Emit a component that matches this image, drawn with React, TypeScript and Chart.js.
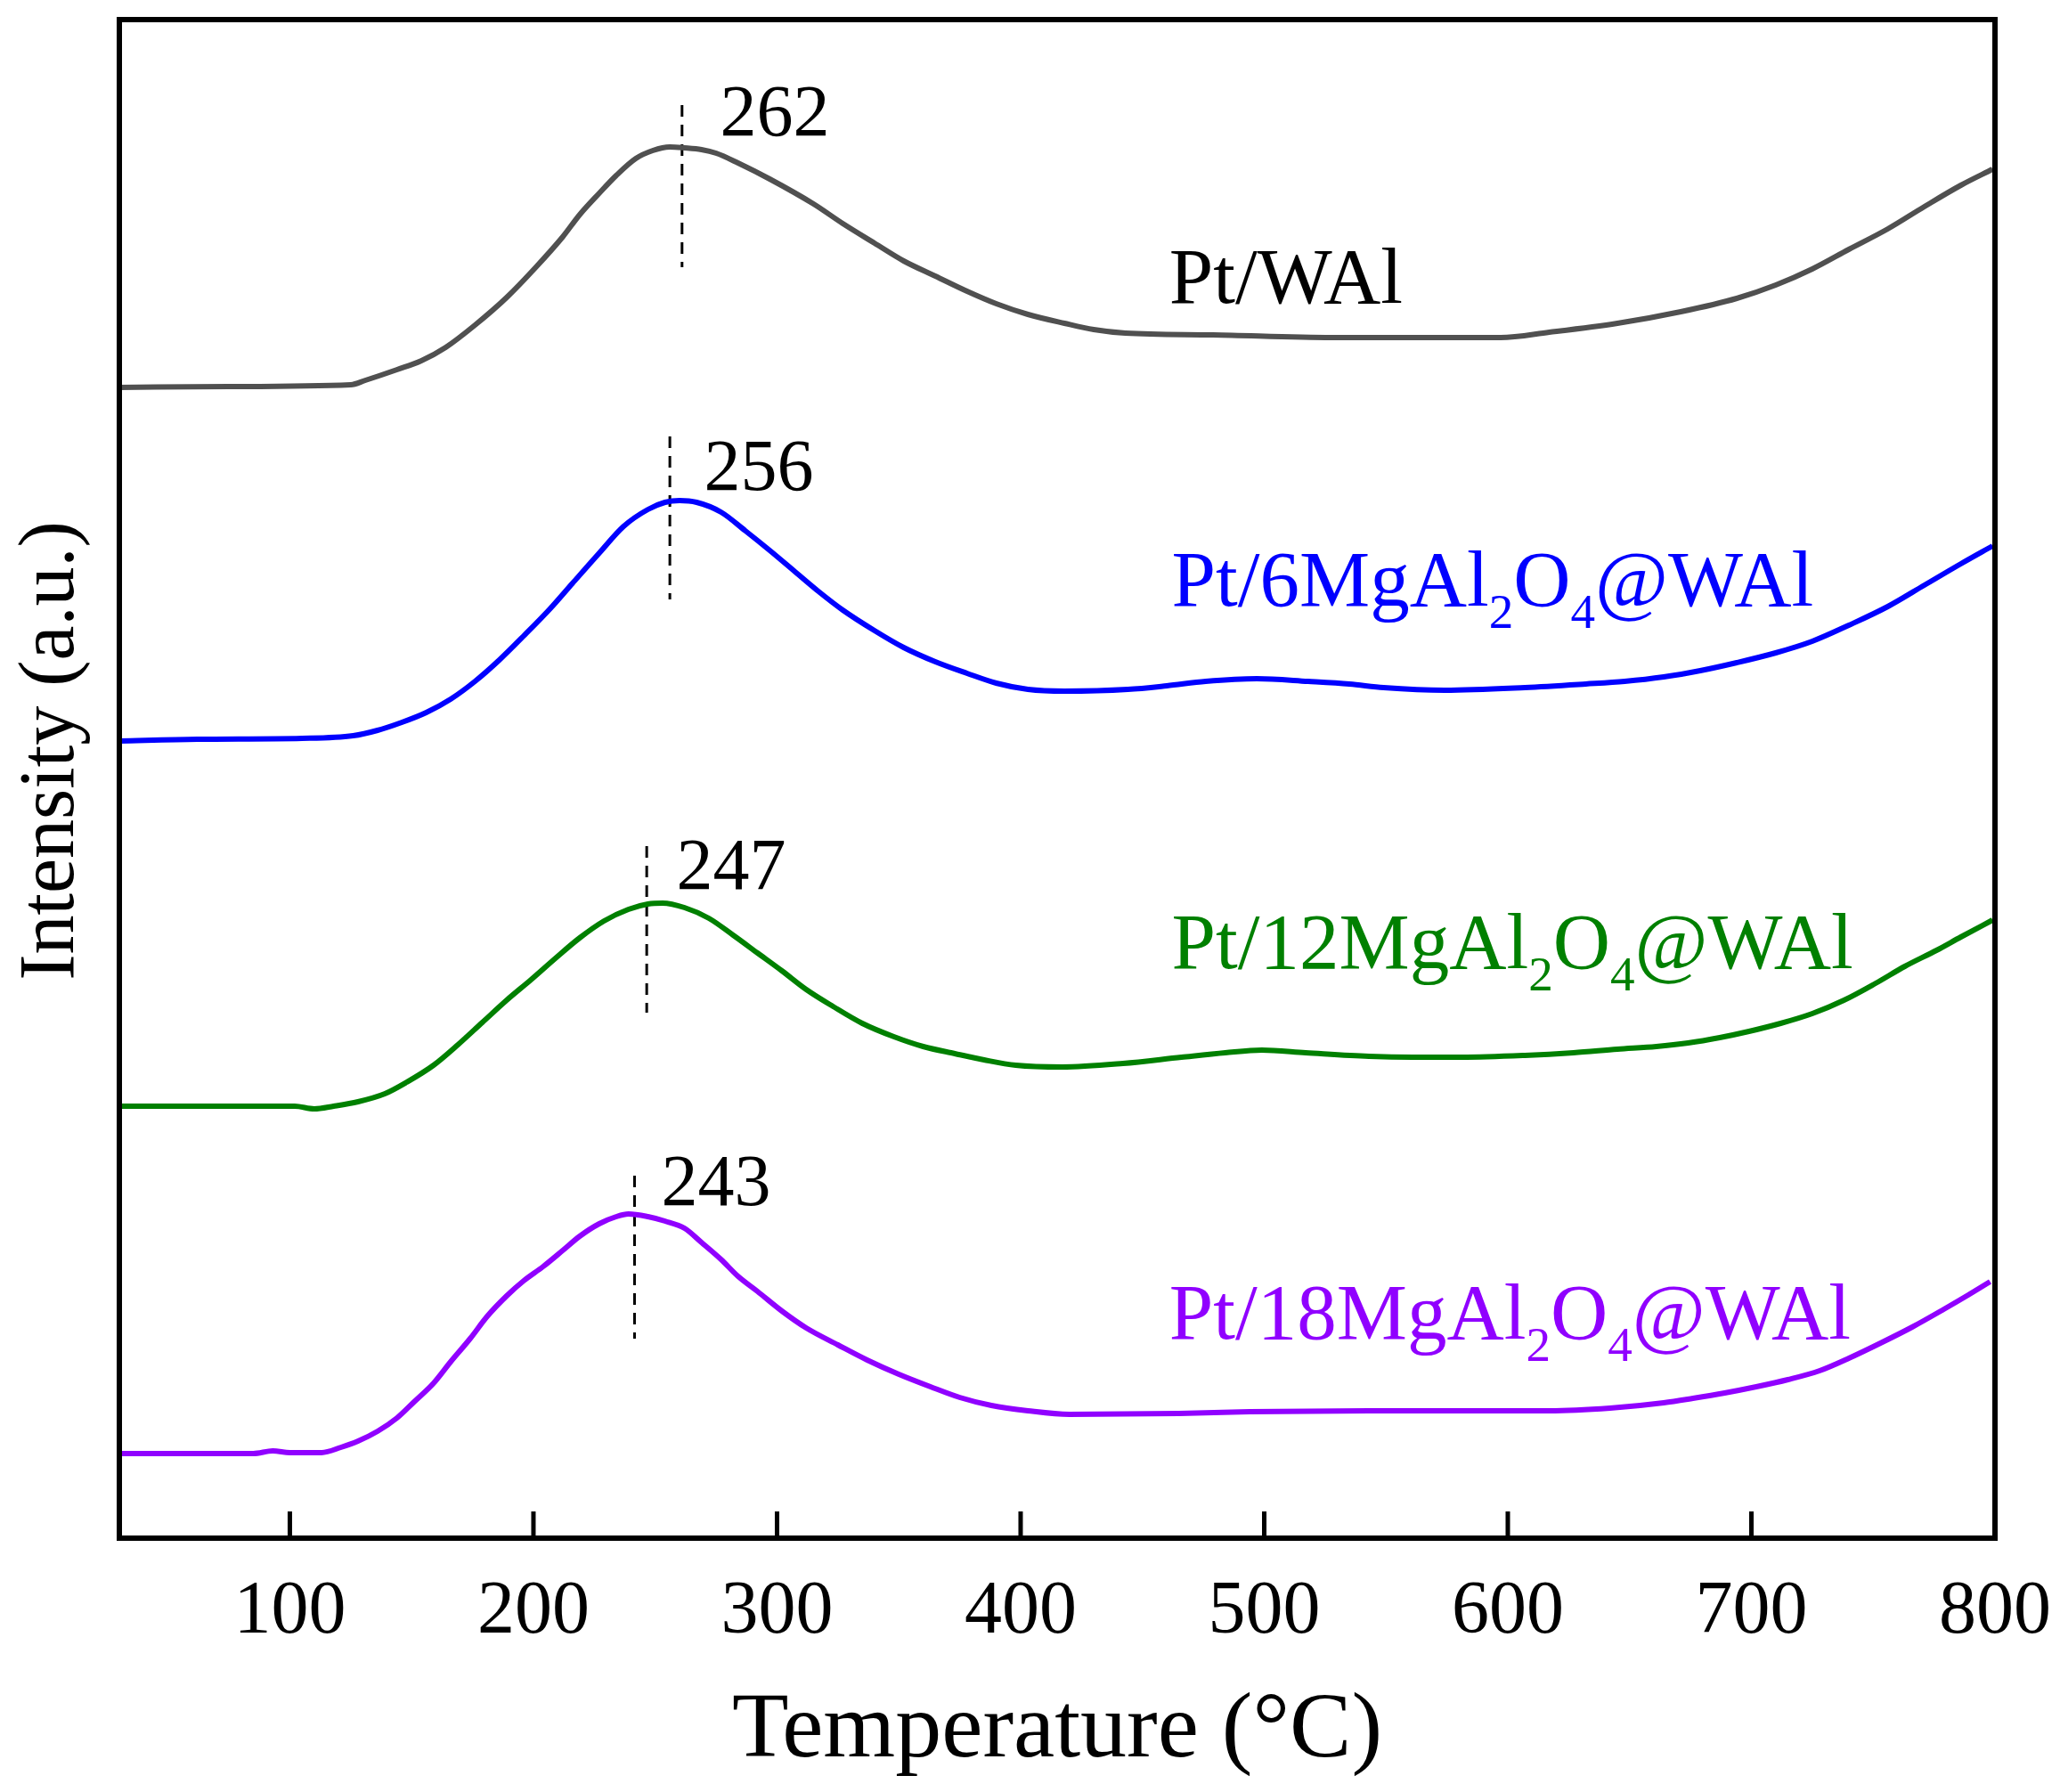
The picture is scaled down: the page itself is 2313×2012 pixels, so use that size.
import React, { useRef, useEffect } from "react";
import { Chart, registerables, Plugin } from "chart.js";

Chart.register(...registerables);

const FONT = "'Liberation Serif', 'Times New Roman', serif";

// x axis (temperature, °C)
const tickValues = [100, 200, 300, 400, 500, 600, 700, 800];

// Pt/WAl
const walT = [30, 75, 125, 131, 144, 154, 164, 176, 189, 201, 212, 219, 227, 234, 242, 249, 256, 262, 269, 275, 284, 297, 315, 327, 340, 352, 365, 378, 390, 403, 418, 430, 443, 479, 528, 597, 617, 645, 671, 694, 710, 725, 740, 756, 771, 786, 799];
const walI = [1290, 1291, 1293, 1298, 1310, 1320, 1335, 1360, 1391, 1425, 1459, 1484, 1508, 1528, 1547, 1556, 1560, 1559, 1557, 1553, 1542, 1524, 1496, 1474, 1452, 1432, 1415, 1398, 1384, 1372, 1362, 1355, 1351, 1349, 1346, 1346, 1352, 1362, 1375, 1390, 1405, 1423, 1445, 1468, 1493, 1517, 1535];

// Pt/6MgAl2O4@WAl
const mg6T = [30, 62, 105, 126, 136, 146, 156, 166, 176, 186, 196, 207, 216, 227, 237, 247, 254, 260, 267, 277, 287, 297, 307, 317, 327, 340, 352, 365, 378, 390, 403, 418, 444, 460, 476, 497, 518, 535, 549, 574, 607, 632, 648, 664, 679, 694, 710, 725, 740, 756, 771, 786, 799];
const mg6I = [893, 895, 896, 899, 905, 914, 925, 940, 960, 984, 1011, 1042, 1070, 1104, 1134, 1153, 1161, 1163, 1161, 1150, 1129, 1107, 1084, 1061, 1040, 1017, 998, 982, 969, 958, 951, 949, 951, 955, 960, 963, 960, 957, 953, 950, 953, 957, 960, 965, 972, 981, 992, 1005, 1023, 1044, 1068, 1092, 1112];

// Pt/12MgAl2O4@WAl
const mg12T = [30, 102, 110, 118, 128, 139, 148, 159, 169, 179, 189, 199, 209, 219, 229, 239, 247, 253, 262, 272, 282, 292, 302, 312, 323, 335, 348, 360, 373, 385, 398, 417, 442, 466, 484, 499, 517, 543, 561, 581, 607, 627, 645, 661, 674, 687, 699, 712, 725, 738, 751, 763, 776, 786, 799];
const mg12I = [483, 483, 480, 483, 488, 497, 510, 529, 552, 577, 602, 625, 649, 672, 691, 704, 710, 711, 706, 694, 675, 655, 635, 614, 595, 576, 561, 550, 542, 535, 529, 527, 531, 538, 543, 546, 543, 539, 538, 538, 540, 543, 547, 550, 554, 560, 567, 576, 587, 602, 621, 640, 658, 673, 692];

// Pt/18MgAl2O4@WAl
const mg18T = [30, 85, 93, 100, 113, 121, 128, 136, 144, 151, 159, 166, 174, 181, 189, 196, 204, 212, 219, 227, 234, 239, 247, 254, 262, 269, 277, 284, 292, 302, 312, 325, 337, 350, 363, 375, 388, 403, 420, 465, 494, 543, 617, 642, 664, 676, 689, 702, 715, 728, 740, 753, 766, 779, 789, 798];
const mg18I = [93, 93, 96, 94, 94, 100, 107, 118, 133, 151, 172, 196, 222, 247, 270, 287, 303, 321, 337, 351, 359, 362, 359, 354, 346, 330, 311, 292, 275, 253, 234, 215, 198, 182, 168, 156, 147, 141, 137, 138, 140, 141, 141, 144, 150, 155, 161, 168, 176, 186, 200, 217, 235, 255, 271, 286];

// peak markers
const peakDashT = [261, 256, 246.5, 241.5];
const peakDashTop = [1607, 1235, 775, 405];
const peakDashBottom = [1425, 1052, 588, 222];
const peakLabels = ["262", "256", "247", "243"];

const curveColors = ["#505050", "#0000ff", "#008000", "#9000ff"];
const labelColors = ["#000000", "#0000ff", "#008000", "#9000ff"];

// text parts: [text, isSubscript]
const seriesNames: [string, boolean][][] = [
  [["Pt/WAl", false]],
  [["Pt/6MgAl", false], ["2", true], ["O", false], ["4", true], ["@WAl", false]],
  [["Pt/12MgAl", false], ["2", true], ["O", false], ["4", true], ["@WAl", false]],
  [["Pt/18MgAl", false], ["2", true], ["O", false], ["4", true], ["@WAl", false]],
];

// where the texts sit, in data units (left edge, baseline)
const nameAnchors = [
  { x: 461, y: 1385 },
  { x: 462, y: 1045 },
  { x: 462, y: 638 },
  { x: 461, y: 222 },
];
const peakAnchors = [
  { x: 276.6, y: 1573 },
  { x: 270, y: 1175 },
  { x: 258.7, y: 727 },
  { x: 252.5, y: 372 },
];

const zip = (xs: number[], ys: number[]) => xs.map((x, i) => ({ x, y: ys[i] }));

const drawParts = (ctx: CanvasRenderingContext2D, parts: [string, boolean][], x: number, y: number, size: number) => {
  let cx = x;
  parts.forEach(([text, sub]) => {
    const s = sub ? size * 0.62 : size;
    ctx.font = `${s}px ${FONT}`;
    ctx.fillText(text, cx, sub ? y + 25 : y);
    cx += ctx.measureText(text).width;
  });
};

const decorPlugin: Plugin<"line"> = {
  id: "decor",
  beforeDraw(chart) {
    const { ctx, width, height } = chart;
    ctx.save();
    ctx.fillStyle = "#ffffff";
    ctx.fillRect(0, 0, width, height);
    ctx.restore();
  },
  afterDraw(chart) {
    const { ctx, chartArea } = chart;
    const xs = chart.scales.x;
    const ys = chart.scales.y;
    ctx.save();

    // inward ticks on the bottom axis
    ctx.strokeStyle = "#000000";
    ctx.lineWidth = 5;
    ctx.setLineDash([]);
    tickValues.forEach((v) => {
      const px = xs.getPixelForValue(v);
      ctx.beginPath();
      ctx.moveTo(px, chartArea.bottom);
      ctx.lineTo(px, chartArea.bottom - 30);
      ctx.stroke();
    });

    // frame
    ctx.lineWidth = 6;
    ctx.strokeRect(chartArea.left, chartArea.top, chartArea.right - chartArea.left, chartArea.bottom - chartArea.top);

    ctx.textAlign = "left";
    ctx.textBaseline = "alphabetic";

    // peak temperatures
    ctx.fillStyle = "#000";
    ctx.font = `82px ${FONT}`;
    peakLabels.forEach((t, i) => {
      ctx.fillText(t, xs.getPixelForValue(peakAnchors[i].x), ys.getPixelForValue(peakAnchors[i].y));
    });

    // sample names
    seriesNames.forEach((parts, i) => {
      ctx.fillStyle = labelColors[i];
      drawParts(ctx, parts, xs.getPixelForValue(nameAnchors[i].x), ys.getPixelForValue(nameAnchors[i].y), 89);
    });

    // axis titles
    ctx.fillStyle = "#000";
    ctx.textAlign = "center";
    ctx.font = `104px ${FONT}`;
    ctx.fillText("Temperature (\u00B0C)", (chartArea.left + chartArea.right) / 2, 1972);

    ctx.translate(82, 843);
    ctx.rotate(-Math.PI / 2);
    ctx.font = `88px ${FONT}`;
    ctx.fillText("Intensity (a.u.)", 0, 0);

    ctx.restore();
  },
};

const TprChart = () => {
  const chartRef = useRef<HTMLCanvasElement>(null);
  const chartInstanceRef = useRef<Chart | null>(null);

  useEffect(() => {
    if (!chartRef.current) return;
    const context = chartRef.current.getContext("2d");
    if (!context) return;

    const curves = [
      zip(walT, walI),
      zip(mg6T, mg6I),
      zip(mg12T, mg12I),
      zip(mg18T, mg18I),
    ];

    const curveSets = curves.map((data, i) => ({
      data,
      borderColor: curveColors[i],
      borderWidth: 6,
      pointRadius: 0,
      cubicInterpolationMode: "monotone" as const,
      fill: false,
    }));

    const dashSets = peakDashT.map((t, i) => ({
      data: [
        { x: t, y: peakDashTop[i] },
        { x: t, y: peakDashBottom[i] },
      ],
      borderColor: "#000",
      borderWidth: 3,
      borderDash: [13, 9],
      pointRadius: 0,
      tension: 0,
      fill: false,
    }));

    chartInstanceRef.current = new Chart(context, {
      type: "line",
      data: { datasets: [...curveSets, ...dashSets] },
      options: {
        responsive: false,
        animation: false,
        layout: { padding: { left: 134, right: 73, top: 22, bottom: 0 } },
        scales: {
          x: {
            type: "linear",
            min: 30,
            max: 800,
            afterBuildTicks: (scale) => {
              scale.ticks = tickValues.map((value) => ({ value }));
            },
            afterFit: (scale) => {
              scale.height = 285;
              scale.paddingLeft = 0;
              scale.paddingRight = 0;
            },
            grid: { display: false },
            border: { display: false },
            ticks: {
              autoSkip: false,
              maxRotation: 0,
              padding: 26,
              color: "#000",
              font: { family: FONT, size: 84 },
            },
          },
          y: { display: false, min: -2, max: 1703 },
        },
        plugins: {
          legend: { display: false },
          tooltip: { enabled: false },
        },
      },
      plugins: [decorPlugin],
    });

    return () => {
      if (chartInstanceRef.current) {
        chartInstanceRef.current.destroy();
        chartInstanceRef.current = null;
      }
    };
  }, []);

  return (
    <div style={{ position: "absolute", left: 0, top: 0, width: 2313, height: 2012, background: "#fff" }}>
      <canvas ref={chartRef} width={2313} height={2012} style={{ width: 2313, height: 2012 }} />
    </div>
  );
};

export default function App() {
  return <TprChart />;
}
